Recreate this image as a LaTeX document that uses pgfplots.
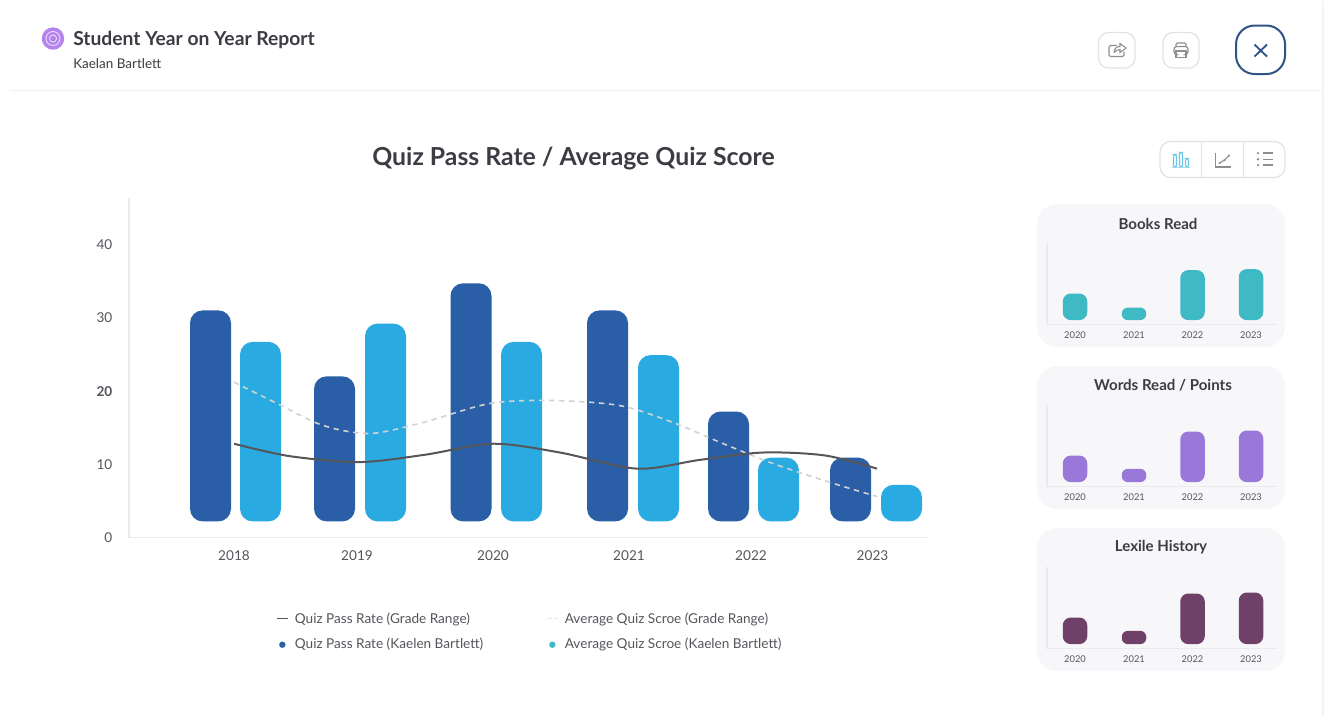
\documentclass[border=0pt]{standalone}
\usepackage{pgfplots}
\pgfplotsset{compat=1.18}
\usepackage{fontspec}
\setmainfont{Lato}
\definecolor{darkbar}{HTML}{2A5EA6}
\definecolor{lightbar}{HTML}{29ABE2}
\definecolor{teal1}{HTML}{3FB9C3}
\definecolor{purp}{HTML}{9A78D9}
\definecolor{plum}{HTML}{6F4068}
\definecolor{panel}{HTML}{F7F7FA}
\definecolor{txt}{HTML}{3C3C44}
\definecolor{tick}{HTML}{55555C}
\definecolor{axl}{HTML}{EAEAEE}
\definecolor{iconc}{HTML}{8E8E8E}
\definecolor{boxc}{HTML}{E2E2E2}
\definecolor{navy}{HTML}{2F5587}
\definecolor{logo}{HTML}{B583EE}
\definecolor{hairA}{HTML}{F0F0F2}
\definecolor{hairB}{HTML}{F4F4F6}
\definecolor{dashc}{HTML}{D2D2D2}
\definecolor{solidc}{HTML}{55555A}
\definecolor{legdash}{HTML}{E2E2E2}
\pgfplotstableread{
x top
210.5 31.0
334.5 22.0
471 34.7
607.5 31.0
728.5 17.2
850.5 10.9
}\darkdata
\pgfplotstableread{
x top
260.5 26.7
385.5 29.2
521.5 26.7
658.5 24.9
778.5 10.9
901.5 7.2
}\lightdata
\pgfplotstableread{
x y
234 12.8
290 11.1
360 10.3
425 11.3
493 12.8
560 11.6
637 9.4
700 10.6
763 11.6
825 11.2
877 9.4
}\solidline
\pgfplotstableread{
x y
234 21.2
277 18.3
323 15.3
370 14.2
423 15.7
490 18.3
553 18.7
620 18.0
673 15.7
720 13.0
773 10.1
833 7.4
877 5.6
}\dashline
\newcommand{\miniaxis}[6]{%
 \fill[panel,rounded corners=15] (1037,#1-0.5) rectangle (1285,#1+142.5);
 \node[font=\fontsize{11.3pt}{13pt}\selectfont\bfseries,text=txt] at (#2,#1+19) {#3};
 \coordinate (m) at (1047,#1+120);
 \begin{axis}[at={(m)},anchor=south west,scale only axis,width=172.5pt,height=61.5pt,
   xmin=1047,xmax=1277,ymin=0,ymax=82,
   axis lines=left,axis line style={-,axl,line width=0.8pt},
   y coord trafo/.code={\pgfmathparse{##1-4.4}},
   ytick=\empty,xtick={1075,1134,1192.5,1251},xticklabels={2020,2021,2022,2023},
   major tick length=0pt,
   xticklabel style={font=\fontsize{7pt}{8pt}\selectfont,text=tick,yshift=-2pt},
   clip=false]
  \addplot[ybar,bar shift=0pt,bar width=18.4pt,fill=#4,draw=none,rounded corners=6pt] coordinates {#5};
  \addplot[ybar,bar shift=0pt,bar width=18.4pt,fill=#4,draw=none,rounded corners=4.6pt] coordinates {#6};
 \end{axis}}
\begin{document}
\begin{tikzpicture}[x=0.75pt,y=-0.75pt]
\fill[white] (0,0) rectangle (1326,715);
% header
\draw[color=hairA] (10,89.5) -- (1322,89.5);
\draw[color=hairB,line width=0.8pt] (1323,0) -- (1323,715);
\fill[logo] (53,38) circle (11.2);
\draw[white!70!logo,line width=0.7pt] (53,38) circle (7);
\draw[white!70!logo,line width=0.7pt] (53,38) circle (3.6);
\node[anchor=base west,inner sep=0,font=\fontsize{14.45pt}{16pt}\selectfont\bfseries,text=txt] at (73,45) {Student Year on Year Report};
\node[anchor=base west,inner sep=0,font=\fontsize{10.1pt}{12pt}\selectfont,text=txt] at (73,68) {Kaelan Bartlett};
\draw[boxc,line width=0.9pt,rounded corners=7.5] (1098.5,32) rectangle (1135,67.5);
\draw[boxc,line width=0.9pt,rounded corners=7.5] (1163,32) rectangle (1199,67.5);
\draw[navy,line width=1.5pt,rounded corners=14] (1236,25) rectangle (1285,73.5);
\draw[navy,line width=1.4pt] (1254.5,44) -- (1267,56) (1267,44) -- (1254.5,56);
% share icon
\draw[iconc,line width=0.8pt,rounded corners=1] (1117,45) -- (1109,45) -- (1109,56) -- (1124,56) -- (1124,51);
\draw[iconc,line width=0.8pt] (1114,52) .. controls (1114,47) and (1118,46) .. (1120,46) -- (1120,43) -- (1126,47.5) -- (1120,52) -- (1120,49) .. controls (1118,49) and (1116,50) .. (1114,52);
% print icon
\draw[iconc,line width=0.9pt,rounded corners=1] (1176,46) -- (1176,42.5) -- (1186,42.5) -- (1186,46);
\draw[iconc,line width=0.9pt,rounded corners=2] (1176,54) -- (1174,54) -- (1174,46) -- (1188,46) -- (1188,54) -- (1186,54);
\draw[iconc,line width=0.9pt] (1176,50.5) rectangle (1186,57);
% toggle
\draw[boxc,line width=0.9pt,rounded corners=8] (1160,141) rectangle (1285,177);
\draw[boxc,line width=0.9pt] (1201.5,141) -- (1201.5,177) (1243.5,141) -- (1243.5,177);
\draw[lightbar!70!white,line width=0.8pt,rounded corners=1.5] (1173.5,154) rectangle (1176.5,166.5);
\draw[lightbar!70!white,line width=0.8pt,rounded corners=1.5] (1179.5,152) rectangle (1182.5,166.5);
\draw[lightbar!70!white,line width=0.8pt,rounded corners=1.5] (1185.5,158) rectangle (1188.5,166.5);
\draw[iconc,line width=0.8pt] (1215.5,152) -- (1215.5,166.5) -- (1230.5,166.5);
\draw[iconc,line width=0.8pt] (1219.5,162.5) -- (1224.5,159.5) -- (1229,155);
\fill[iconc] (1219.5,162.5) circle (1.2) (1224.5,159.5) circle (1.2) (1229,155) circle (1.2);
\fill[iconc] (1258,152.5) circle (1.3) (1258,158.7) circle (1.3) (1258,164.5) circle (1.3);
\draw[iconc,line width=0.8pt] (1263,152.5) -- (1272.5,152.5) (1263,158.7) -- (1272.5,158.7) (1263,164.5) -- (1272.5,164.5);
% title
\node[inner sep=0,font=\fontsize{18.6pt}{22pt}\selectfont\bfseries,text=txt] at (573.5,158) {Quiz Pass Rate / Average Quiz Score};
% main
\coordinate (main) at (129,537);
\begin{axis}[at={(main)},anchor=south west,scale only axis,width=600pt,height=255pt,
  xmin=129,xmax=929,ymin=0,ymax=46.4,
  axis lines=left,axis line style={-,axl,line width=0.8pt},
  y coord trafo/.code={\pgfmathparse{#1-2.2}},
  xtick={234,357,493,629,751,872.5},xticklabels={2018,2019,2020,2021,2022,2023},
  ytick={0,10,20,30,40},yticklabels={0,10,\textbf{20},30,40},
  major tick length=0pt,
  xticklabel style={font=\fontsize{10.2pt}{12pt}\selectfont,text=tick,yshift=-6.5pt},
  yticklabel style={font=\fontsize{10.2pt}{12pt}\selectfont,text=tick,xshift=-9pt,yshift=-0.2pt},
  legend style={draw=none,fill=none,at={(0.184,-0.212)},anchor=north west,inner sep=0pt,
    font=\fontsize{10.2pt}{12pt}\selectfont,text=tick,
    /tikz/every even column/.append style={column sep=45.5pt},
    /tikz/every odd column/.append style={column sep=3pt},row sep=6pt},
  legend columns=2,legend cell align=left,
  clip=false]
 \addplot[ybar,bar shift=0pt,bar width=30.75pt,fill=darkbar,draw=none,rounded corners=9.5pt,forget plot] table[x=x,y=top] {\darkdata};
 \addplot[ybar,bar shift=0pt,bar width=30.75pt,fill=lightbar,draw=none,rounded corners=9.5pt,forget plot] table[x=x,y=top] {\lightdata};
 \addplot[smooth,color=dashc,line width=1.2pt,dash pattern=on 4pt off 3.5pt,forget plot] table[x=x,y=y] {\dashline};
 \addplot[smooth,color=solidc,line width=1.5pt,forget plot] table[x=x,y=y] {\solidline};
 \addlegendimage{legend image code/.code={\draw[color=solidc,line width=0.8pt] (0pt,0pt) -- (8pt,0pt);}}
 \addlegendentry{Quiz Pass Rate (Grade Range)}
 \addlegendimage{legend image code/.code={\draw[color=legdash,line width=0.7pt,dash pattern=on 1.5pt off 1pt] (0pt,0pt) -- (8pt,0pt);}}
 \addlegendentry{Average Quiz Scroe (Grade Range)}
 \addlegendimage{legend image code/.code={\path[draw=none,fill=none] (0pt,0pt) -- (8pt,0pt);\fill[darkbar,draw=none] (4pt,0pt) circle (2.4pt);}}
 \addlegendentry{Quiz Pass Rate (Kaelen Bartlett)}
 \addlegendimage{legend image code/.code={\path[draw=none,fill=none] (0pt,0pt) -- (8pt,0pt);\fill[teal1,draw=none] (4pt,0pt) circle (2.4pt);}}
 \addlegendentry{Average Quiz Scroe (Kaelen Bartlett)}
\end{axis}
% small multiples
\miniaxis{204}{1158}{Books Read}{teal1}{(1075,31)(1192.5,54.4)(1251,55.4)}{(1134,17)}
\miniaxis{366}{1163}{Words Read / Points}{purp}{(1075,31)(1192.5,55)(1251,56)}{(1134,17.7)}
\miniaxis{528}{1161}{Lexile History}{plum}{(1075,31)(1192.5,55)(1251,56)}{(1134,17.7)}
\end{tikzpicture}
\end{document}
